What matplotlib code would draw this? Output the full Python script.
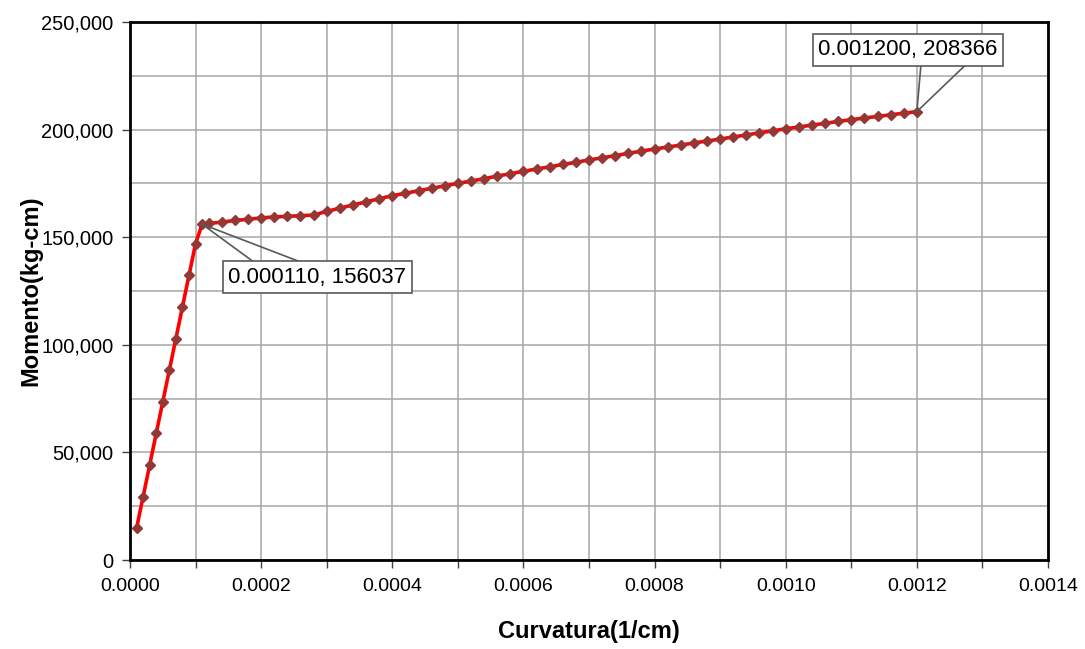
import matplotlib.pyplot as plt
import numpy as np
from matplotlib.ticker import FuncFormatter, MultipleLocator

plt.rcParams["font.family"] = ["Liberation Sans", "DejaVu Sans"]

# Tramo elastico: curvatura 0.00001 .. 0.00011 (1/cm)
curv_elastico = [0.00001, 0.00002, 0.00003, 0.00004, 0.00005, 0.00006,
                 0.00007, 0.00008, 0.00009, 0.00010, 0.00011]
mom_elastico = [14700, 29400, 44100, 58800, 73500, 88200,
                102900, 117600, 132300, 147000, 156037]

# Tramo post-fluencia: curvatura 0.00012 .. 0.00120 cada 0.00002
curv_plastico = [0.00012, 0.00014, 0.00016, 0.00018, 0.00020,
                 0.00022, 0.00024, 0.00026, 0.00028, 0.00030,
                 0.00032, 0.00034, 0.00036, 0.00038, 0.00040,
                 0.00042, 0.00044, 0.00046, 0.00048, 0.00050,
                 0.00052, 0.00054, 0.00056, 0.00058, 0.00060,
                 0.00062, 0.00064, 0.00066, 0.00068, 0.00070,
                 0.00072, 0.00074, 0.00076, 0.00078, 0.00080,
                 0.00082, 0.00084, 0.00086, 0.00088, 0.00090,
                 0.00092, 0.00094, 0.00096, 0.00098, 0.00100,
                 0.00102, 0.00104, 0.00106, 0.00108, 0.00110,
                 0.00112, 0.00114, 0.00116, 0.00118, 0.00120]
mom_plastico = [156400, 157000, 157800, 158300, 159000,
                159400, 159700, 160000, 160300, 162000,
                163500, 165000, 166400, 167900, 169300,
                170400, 171600, 172700, 173900, 175000,
                176100, 177200, 178400, 179500, 180600,
                181700, 182700, 183800, 184800, 185900,
                186900, 187900, 189000, 190000, 191000,
                191900, 192800, 193800, 194700, 195600,
                196600, 197500, 198500, 199400, 200400,
                201200, 202100, 202900, 203800, 204600,
                205400, 206100, 206900, 207600, 208366]

curvatura = curv_elastico + curv_plastico
momento = mom_elastico + mom_plastico

fig = plt.figure(figsize=(10.85, 6.49), dpi=100)
ax = fig.add_axes([0.1198, 0.1371, 0.8461, 0.8290])

ax.plot(curvatura, momento, color="#FF0000", lw=2.6, zorder=3,
        marker="D", markersize=5.5, markerfacecolor="#953735",
        markeredgecolor="#953735")

ax.set_xlim(0, 0.0014)
ax.set_ylim(0, 250000)
ax.xaxis.set_major_locator(MultipleLocator(0.0002))
ax.xaxis.set_minor_locator(MultipleLocator(0.0001))
ax.yaxis.set_major_locator(MultipleLocator(50000))
ax.yaxis.set_minor_locator(MultipleLocator(25000))
ax.xaxis.set_major_formatter(FuncFormatter(lambda v, p: f"{v:.4f}"))
ax.yaxis.set_major_formatter(FuncFormatter(lambda v, p: f"{v:,.0f}"))

ax.grid(which="both", color="#a6a6a6", lw=1.1, zorder=0)
ax.set_axisbelow(True)
ax.tick_params(axis="both", which="major", length=6, width=1,
               direction="out", color="#404040")
ax.tick_params(axis="x", which="major", labelsize=14, pad=7)
ax.tick_params(axis="y", which="major", labelsize=14.5, pad=6)
ax.tick_params(axis="x", which="minor", length=6, width=1, color="#404040")
ax.tick_params(axis="y", which="minor", length=0)
for s in ax.spines.values():
    s.set_linewidth(2)
    s.set_color("black")

ax.set_xlabel("Curvatura(1/cm)", fontsize=17, fontweight="bold", labelpad=18)
ax.set_ylabel("Momento(kg-cm)", fontsize=17, fontweight="bold", labelpad=-1)

# etiquetas de datos con lineas guia
def etiqueta(i, txt_off, guias):
    x, y = curvatura[i], momento[i]
    for g in guias:
        ax.annotate("", xy=(x, y), xytext=g, textcoords="offset pixels",
                    arrowprops=dict(arrowstyle="-", color="#595959", lw=1.2,
                                    shrinkA=0, shrinkB=0), zorder=4)
    ax.annotate(f"{x:.6f}, {y:.0f}", xy=(x, y), xytext=txt_off,
                textcoords="offset pixels", ha="center", va="center",
                fontsize=16, zorder=5,
                bbox=dict(boxstyle="square,pad=0.25", fc="white",
                          ec="#595959", lw=1.2))

etiqueta(len(curv_elastico) - 1, (115, -53), [(52, -38), (99, -38)])
etiqueta(len(curvatura) - 1, (-9, 62), [(4, 46), (48, 46)])

fig.savefig("out.png", dpi=100)
